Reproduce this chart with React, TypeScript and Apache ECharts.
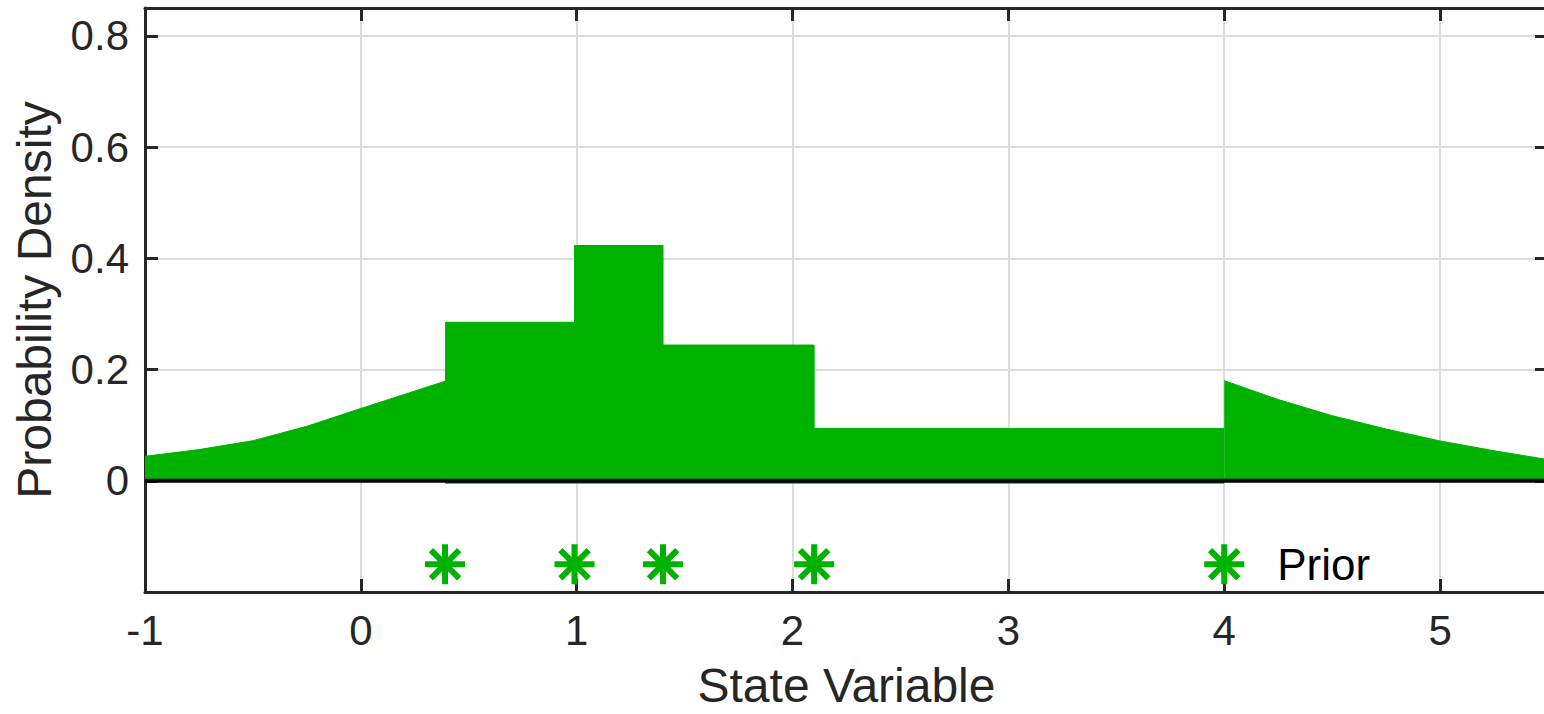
import React, { useEffect, useRef } from "react";
import * as echarts from "echarts";

// Ensemble members (prior) and the piecewise density built around them
const members: number[] = [0.39, 0.99, 1.4, 2.1, 4.0];
const memberLevel = -0.15;
const binHeights: number[] = [0.285, 0.423, 0.244, 0.094];

// Tail densities outside the ensemble range
const leftTailX: number[] = [-1, -0.75, -0.5, -0.25, 0, 0.2, 0.39];
const leftTailY: number[] = [0.044, 0.056, 0.072, 0.098, 0.13, 0.155, 0.179];
const rightTailX: number[] = [4.0, 4.25, 4.5, 4.75, 5.0, 5.25, 5.5];
const rightTailY: number[] = [0.18, 0.146, 0.117, 0.093, 0.0716, 0.054, 0.038];

const xTicks: number[] = [-1, 0, 1, 2, 3, 4, 5];
const yTicks: number[] = [0, 0.2, 0.4, 0.6, 0.8];
const xRange: [number, number] = [-1, 5.5];
const yRange: [number, number] = [-0.2, 0.85];

const GREEN = "#00b200";
const AXIS = "#262626";
const FONT = "Liberation Sans, Arial, Helvetica, sans-serif";

const STAR =
  "path://M0,-10L0,10M-10,0L10,0M-7.07,-7.07L7.07,7.07M-7.07,7.07L7.07,-7.07";

export default function App() {
  const ref = useRef<HTMLDivElement>(null);

  useEffect(() => {
    if (!ref.current) return;
    const chart = echarts.init(ref.current, undefined, { renderer: "svg" });

    const binData = binHeights.map((h, i) => [members[i], h]);
    binData.push([members[members.length - 1], binHeights[binHeights.length - 1]]);

    const fmtX = (v: number) =>
      xTicks.some((t) => Math.abs(t - v) < 1e-6) ? String(v) : "";
    const fmtY = (v: number) => {
      const t = yTicks.find((k) => Math.abs(k - v) < 1e-6);
      return t === undefined ? "" : String(t);
    };

    const areaSeries = (name: string, data: number[][], extra: any = {}) => ({
      name,
      type: "line",
      data,
      symbol: "none",
      lineStyle: { color: GREEN, width: 1 },
      areaStyle: { color: GREEN, opacity: 1 },
      z: 2,
      ...extra,
    });

    const boxAxis = {
      axisLine: { onZero: false, lineStyle: { color: AXIS, width: 3 } },
      axisTick: { inside: true, length: 13, lineStyle: { color: AXIS, width: 3 } },
    };

    chart.setOption({
      animation: false,
      grid: { left: 145, top: 8, right: 0, bottom: 117, containLabel: false },
      xAxis: [
        {
          type: "value",
          min: xRange[0],
          max: xRange[1],
          interval: 1,
          position: "bottom",
          ...boxAxis,
          axisLabel: {
            formatter: fmtX,
            fontSize: 42,
            fontFamily: FONT,
            color: AXIS,
            margin: 17,
          },
          splitLine: { show: true, lineStyle: { color: "#dcdcdc", width: 2 } },
          name: "State Variable",
          nameLocation: "middle",
          nameGap: 69,
          nameTextStyle: { fontSize: 48, fontFamily: FONT, color: AXIS },
        },
        {
          type: "value",
          min: xRange[0],
          max: xRange[1],
          interval: 1,
          position: "top",
          ...boxAxis,
          axisLabel: { show: false },
          splitLine: { show: false },
        },
      ],
      yAxis: [
        {
          type: "value",
          min: yRange[0],
          max: yRange[1],
          interval: 0.2,
          position: "left",
          ...boxAxis,
          axisLabel: {
            formatter: fmtY,
            fontSize: 42,
            fontFamily: FONT,
            color: AXIS,
            margin: 16,
          },
          splitLine: { show: true, lineStyle: { color: "#dcdcdc", width: 2 } },
          name: "Probability Density",
          nameLocation: "middle",
          nameGap: 87,
          nameTextStyle: { fontSize: 48, fontFamily: FONT, color: AXIS },
        },
        {
          type: "value",
          min: yRange[0],
          max: yRange[1],
          interval: 0.2,
          position: "right",
          ...boxAxis,
          axisLabel: { show: false },
          splitLine: { show: false },
        },
      ],
      series: [
        areaSeries("leftTail", leftTailX.map((x, i) => [x, leftTailY[i]])),
        areaSeries("bins", binData, { step: "end" }),
        areaSeries("rightTail", rightTailX.map((x, i) => [x, rightTailY[i]])),
        {
          name: "binBase",
          type: "line",
          data: [
            [members[0], 0],
            [members[members.length - 1], 0],
          ],
          symbol: "none",
          lineStyle: { color: GREEN, width: 6 },
          z: 3,
        },
        {
          name: "zero",
          type: "line",
          data: [
            [xRange[0], 0],
            [xRange[1], 0],
          ],
          symbol: "none",
          lineStyle: { color: "#000", width: 4 },
          z: 4,
        },
        {
          name: "Prior",
          type: "scatter",
          symbol: STAR,
          symbolSize: 40,
          itemStyle: {
            color: "rgba(0,0,0,0)",
            borderColor: GREEN,
            borderWidth: 6,
            opacity: 1,
          },
          data: members.map((m, i) =>
            i === members.length - 1
              ? {
                  value: [m, memberLevel],
                  label: {
                    show: true,
                    formatter: "Prior",
                    position: "right",
                    distance: 30,
                    fontSize: 44,
                    fontFamily: FONT,
                    color: "#000",
                  },
                }
              : { value: [m, memberLevel] }
          ),
          z: 5,
        },
      ],
    });

    return () => chart.dispose();
  }, []);

  return (
    <div
      style={{
        position: "absolute",
        left: 0,
        top: 0,
        width: 1544,
        height: 714,
        overflow: "hidden",
        background: "#fff",
      }}
    >
      <div ref={ref} style={{ width: 1551, height: 714 }} />
    </div>
  );
}
